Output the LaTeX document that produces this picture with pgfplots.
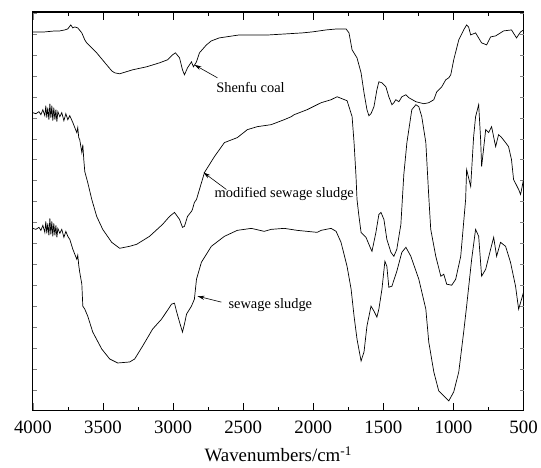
\documentclass[border=0pt]{standalone}
\usepackage{fontspec}
\setmainfont{Liberation Serif}
\usepackage{pgfplots}
\pgfplotsset{compat=1.18}
\usetikzlibrary{arrows.meta}
\begin{document}
\begin{tikzpicture}
\begin{axis}[
  scale only axis, width=492bp, height=400bp,
  xmin=-4000, xmax=-500, ymin=0, ymax=400,
  x filter/.expression={-x},
  xtick={-4000,-3500,...,-500},
  xticklabels={4000,3500,3000,2500,2000,1500,1000,500},
  ytick=\empty,
  extra y ticks={21,42,...,399}, extra y tick labels={},
  extra y tick style={major tick length=4bp},
  major tick length=8bp,
  ticklabel style={font=\fontsize{19}{19}\selectfont},
  xticklabel style={yshift=-7bp},
  xlabel={Wavenumbers/cm\textsuperscript{-1}},
  xlabel style={font=\fontsize{19}{19}\selectfont, yshift=-6bp},
  axis line style={line width=1.1bp},
]
% Shenfu coal
\addplot[black, line width=0.7bp] coordinates {
(4000,380)(3915,380)(3843,381)(3808,381)(3772,382)(3751,383)(3730,387)(3715,384)(3701,385)(3680,384)
(3651,379)(3630,372)(3616,369)(3580,364)(3545,359)(3474,347)(3438,341)(3417,339)(3381,338)(3289,342)
(3189,345)(3097,349)(3040,352)(3004,357)(2983,359)(2954,354)(2933,342)(2919,337)(2897,344)(2869,350)
(2855,345)(2833,350)(2812,359)(2762,367)(2727,371)(2670,374)(2527,377)(2314,377)(2079,379)(2008,380)
(1908,382)(1830,383)(1766,383)(1745,379)(1723,362)(1688,354)(1659,339)(1638,319)(1617,302)(1603,296)
(1588,298)(1567,305)(1546,322)(1532,330)(1510,329)(1482,325)(1461,315)(1439,307)(1425,309)(1411,312)
(1389,310)(1368,315)(1339,317)(1318,314)(1268,310)(1211,308)(1176,309)(1140,312)(1119,320)(1083,325)
(1055,332)(1033,334)(1019,337)(998,352)(962,372)(927,382)(906,387)(892,385)(877,377)(842,379)
(799,369)(763,367)(735,375)(699,376)(642,381)(586,382)(550,374)(521,380)(500,382)
};
% modified sewage sludge
\addplot[black, line width=0.7bp] coordinates {
(4000,299)(3979,298)(3957,300)(3943,297)(3929,302)(3915,296)(3908,306)(3901,294)(3894,304)(3886,292)
(3879,308)(3872,294)(3865,306)(3858,291)(3851,304)(3843,292)(3836,302)(3829,290)(3822,300)(3808,295)
(3794,299)(3779,291)(3765,298)(3751,292)(3737,296)(3715,289)(3701,284)(3687,279)(3680,284)(3673,274)
(3666,272)(3651,259)(3644,267)(3637,252)(3630,240)(3609,229)(3580,212)(3545,195)(3502,182)(3438,169)
(3381,163)(3310,165)(3260,167)(3168,175)(3075,187)(3025,195)(2990,199)(2954,192)(2933,184)(2919,185)
(2897,195)(2869,200)(2862,202)(2848,209)(2833,212)(2776,239)(2705,255)(2634,269)(2542,274)(2470,282)
(2399,285)(2300,287)(2207,292)(2157,295)(2136,297)(2044,302)(1944,309)(1873,312)(1830,315)(1795,313)
(1759,311)(1745,305)(1723,295)(1709,269)(1695,235)(1688,212)(1674,195)(1659,179)(1624,174)(1588,162)
(1581,160)(1553,179)(1532,197)(1517,199)(1496,192)(1475,172)(1446,159)(1425,155)(1404,162)(1375,187)
(1354,237)(1332,269)(1297,302)(1268,307)(1247,305)(1226,295)(1197,269)(1176,215)(1162,182)(1126,155)
(1090,135)(1069,137)(1048,127)(1012,126)(984,132)(948,155)(913,212)(906,242)(877,225)(856,275)
(842,295)(820,307)(806,272)(799,245)(784,264)(770,282)(749,279)(728,285)(699,265)(678,277)
(656,274)(628,269)(607,265)(586,252)(571,232)(535,222)(521,217)(500,232)
};
% sewage sludge
\addplot[black, line width=0.7bp] coordinates {
(4000,183)(3979,182)(3957,184)(3943,181)(3929,186)(3915,179)(3908,190)(3901,178)(3894,188)(3886,176)
(3879,193)(3872,177)(3865,190)(3858,175)(3851,188)(3843,176)(3836,186)(3829,174)(3822,183)(3808,178)
(3794,182)(3779,174)(3765,180)(3751,175)(3737,172)(3715,162)(3701,157)(3687,152)(3680,156)(3673,146)
(3666,139)(3651,127)(3644,105)(3630,102)(3609,95)(3573,79)(3509,62)(3452,52)(3395,48)(3310,49)
(3274,52)(3217,65)(3146,82)(3082,92)(3025,104)(3011,107)(2990,108)(2976,100)(2954,89)(2933,79)
(2919,87)(2904,97)(2869,105)(2848,112)(2833,132)(2798,149)(2727,165)(2634,175)(2542,181)(2442,183)
(2350,180)(2300,182)(2207,183)(2115,181)(2044,180)(1972,179)(1944,181)(1873,183)(1837,180)(1802,169)
(1759,145)(1730,122)(1709,95)(1688,72)(1659,50)(1638,59)(1617,85)(1588,105)(1567,100)(1546,94)
(1532,102)(1510,122)(1489,150)(1475,145)(1461,124)(1439,125)(1404,140)(1368,159)(1339,164)(1304,155)
(1247,132)(1197,102)(1176,69)(1140,39)(1105,20)(1069,15)(1033,10)(998,19)(962,39)(927,79)
(906,105)(870,152)(842,182)(820,175)(799,135)(770,142)(735,162)(713,174)(692,155)(664,169)
(628,165)(593,149)(557,125)(535,102)(514,112)(500,119)
};
\pgfplotsinvokeforeach{-3500,-3000,-2500,-2000,-1500,-1000}{
  \draw[line width=0.8bp] (axis cs:#1,0) -- (axis cs:#1,8);
  \draw[line width=0.8bp] (axis cs:#1,400) -- (axis cs:#1,392);
}
\pgfplotsinvokeforeach{-3750,-3250,-2750,-2250,-1750,-1250,-750}{
  \draw[line width=0.8bp] (axis cs:#1,0) -- (axis cs:#1,4);
  \draw[line width=0.8bp] (axis cs:#1,400) -- (axis cs:#1,396);
}
\draw[-{Stealth[length=7bp,width=4bp]}, line width=0.6bp] (axis cs:-2684,334) -- (axis cs:-2848,347);
\node[anchor=west, inner sep=0pt, font=\fontsize{14.5}{14.5}\selectfont] at (axis cs:-2693,324) {Shenfu coal};
\draw[-{Stealth[length=7bp,width=4bp]}, line width=0.6bp] (axis cs:-2620,222) -- (axis cs:-2783,239);
\node[anchor=west, inner sep=0pt, font=\fontsize{14.5}{14.5}\selectfont] at (axis cs:-2705,217) {modified sewage sludge};
\draw[-{Stealth[length=7bp,width=4bp]}, line width=0.6bp] (axis cs:-2655,109) -- (axis cs:-2826,115);
\node[anchor=west, inner sep=0pt, font=\fontsize{14.5}{14.5}\selectfont] at (axis cs:-2606,106) {sewage sludge};
\end{axis}
\path ([shift={(-33bp,-57bp)}]current axis.south west) rectangle ([shift={(16bp,12bp)}]current axis.north east);
\end{tikzpicture}
\end{document}
